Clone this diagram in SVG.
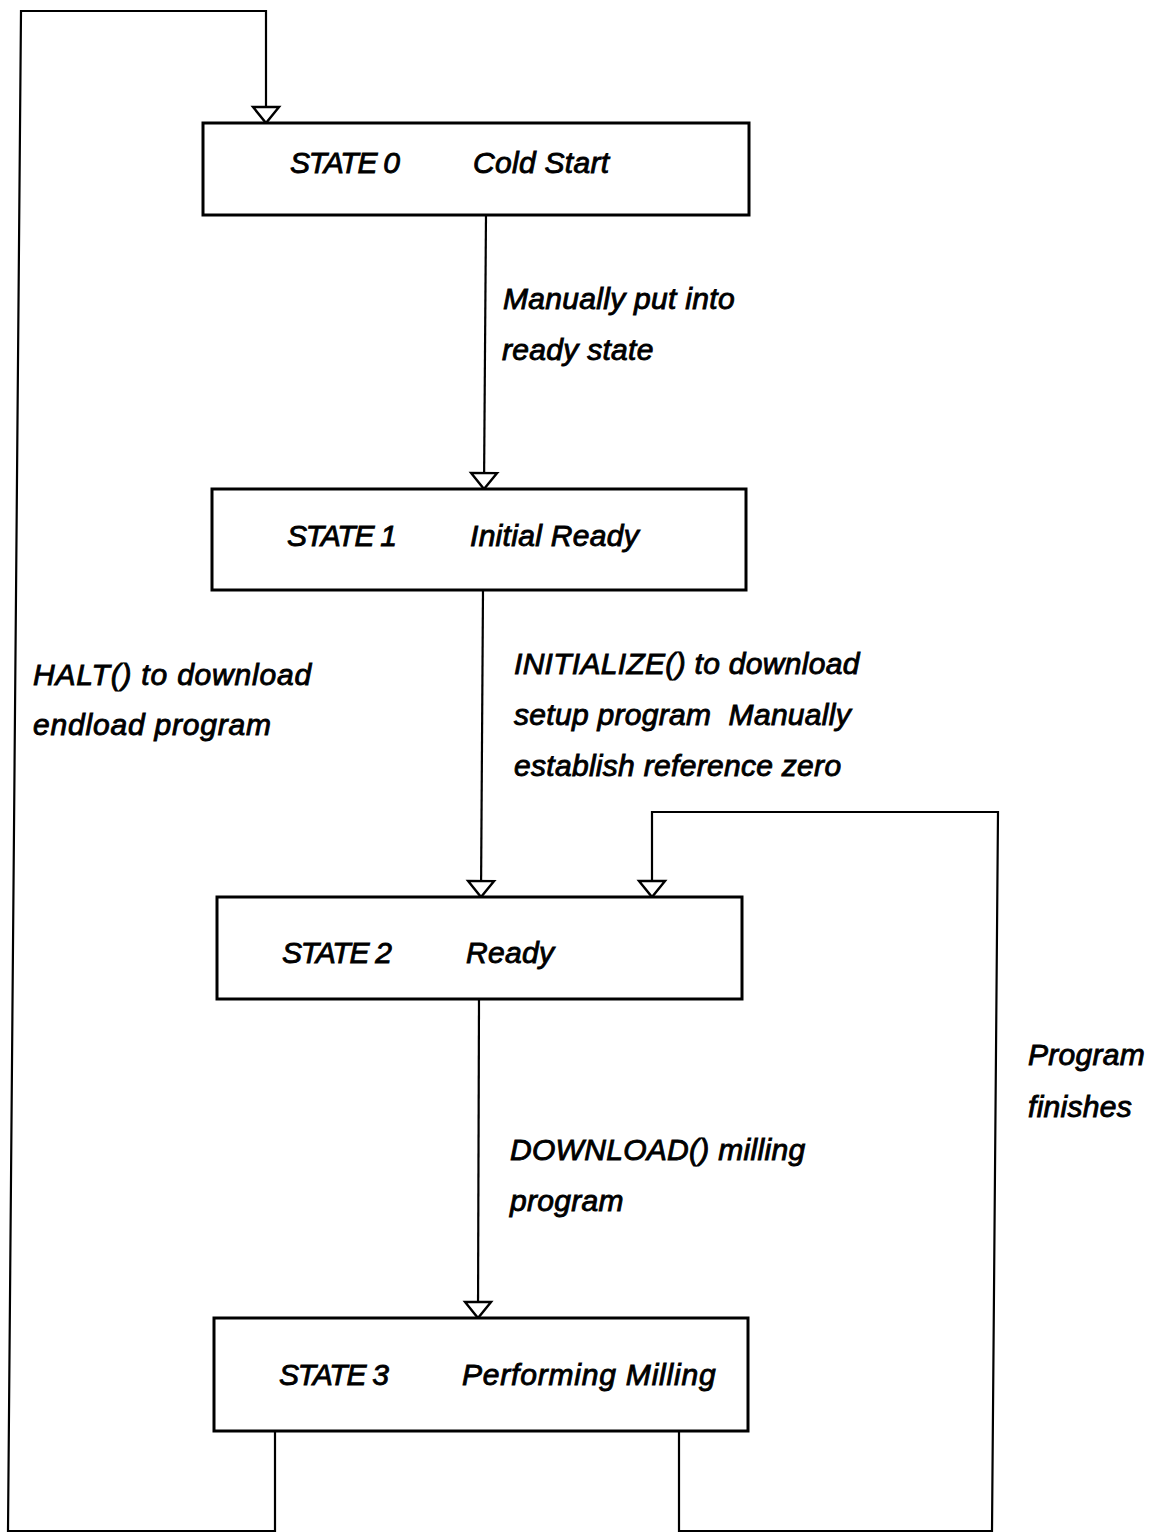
<svg xmlns="http://www.w3.org/2000/svg" width="1168" height="1533" viewBox="0 0 1168 1533">
  <style>
    .box { fill: #ffffff; stroke: #000000; stroke-width: 3; }
    .line { fill: none; stroke: #000000; stroke-width: 2.2; stroke-linejoin: miter; }
    text { font-family: "Liberation Sans", Arial, Helvetica, sans-serif; font-style: italic; font-size: 30px; fill: #000000; stroke: #000000; stroke-width: 0.9; letter-spacing: 0.3px; }
    .st { letter-spacing: -1.2px; }
    .wide { letter-spacing: 0.8px; }
  </style>
  <defs>
    <marker id="tri" viewBox="-3 -16 22 32" markerUnits="userSpaceOnUse" markerWidth="22" markerHeight="32" refX="16" refY="0" orient="auto">
      <path d="M0,-13 L16,0 L0,13 Z" fill="#ffffff" stroke="#000000" stroke-width="2.4" stroke-linejoin="miter"/>
    </marker>
  </defs>
  <rect width="1168" height="1533" fill="#ffffff"/>

  <g id="connectors">
    <path class="line" d="M486,215 L484,489" marker-end="url(#tri)"/>
    <path class="line" d="M483,590 L481,897" marker-end="url(#tri)"/>
    <path class="line" d="M479,999 L478,1318" marker-end="url(#tri)"/>
    <path class="line" d="M275,1432 L275,1531 L8,1531 L21,11 L266,11 L266,123" marker-end="url(#tri)"/>
    <path class="line" d="M679,1432 L679,1531 L992,1531 L998,812 L652,812 L652,897" marker-end="url(#tri)"/>
  </g>

  <g id="state0">
    <rect class="box" x="203" y="123" width="546" height="92"/>
    <text class="st" x="290" y="173">STATE 0</text>
    <text x="473" y="173">Cold Start</text>
  </g>
  <g id="state1">
    <rect class="box" x="212" y="489" width="534" height="101"/>
    <text class="st" x="287" y="546">STATE 1</text>
    <text x="470" y="546">Initial Ready</text>
  </g>
  <g id="state2">
    <rect class="box" x="217" y="897" width="525" height="102"/>
    <text class="st" x="282" y="963">STATE 2</text>
    <text x="466" y="963">Ready</text>
  </g>
  <g id="state3">
    <rect class="box" x="214" y="1318" width="534" height="113"/>
    <text class="st" x="279" y="1385">STATE 3</text>
    <text class="wide" x="462" y="1385">Performing Milling</text>
  </g>

  <g id="labels">
    <text x="503" y="309">Manually put into</text>
    <text x="502" y="360">ready state</text>
    <text class="wide" x="33" y="685">HALT() to download</text>
    <text class="wide" x="33" y="735">endload program</text>
    <text x="514" y="674">INITIALIZE() to download</text>
    <text x="514" y="725" xml:space="preserve">setup program  Manually</text>
    <text x="514" y="776">establish reference zero</text>
    <text x="1028" y="1065">Program</text>
    <text x="1028" y="1117">finishes</text>
    <text x="510" y="1160">DOWNLOAD() milling</text>
    <text x="510" y="1211">program</text>
  </g>
</svg>
